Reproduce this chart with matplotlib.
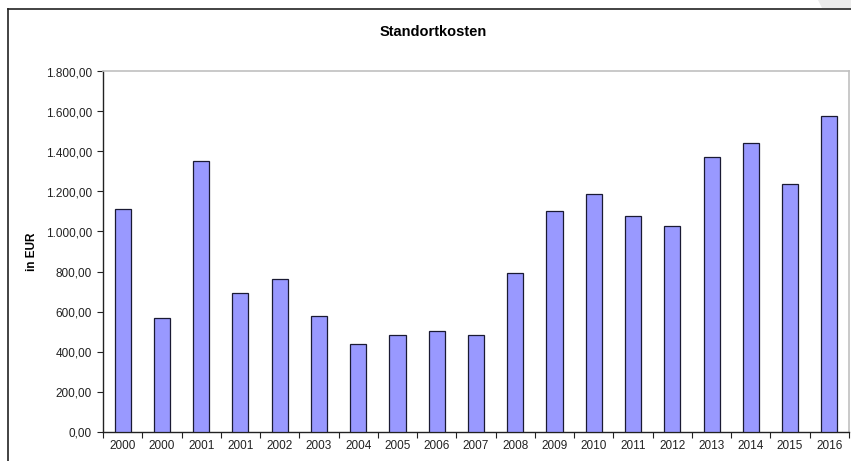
import matplotlib.pyplot as plt
from matplotlib.ticker import FuncFormatter, FixedLocator, MultipleLocator
from matplotlib.lines import Line2D
from matplotlib.patches import Polygon
import numpy as np

plt.rcParams['font.family'] = ['Liberation Sans', 'DejaVu Sans']

years = ["2000", "2000", "2001", "2001", "2002", "2003", "2004", "2005", "2006", "2007",
         "2008", "2009", "2010", "2011", "2012", "2013", "2014", "2015", "2016"]
kosten = [1111, 569, 1350, 691, 761, 577, 436, 481, 504, 481,
          792, 1102, 1185, 1077, 1026, 1371, 1444, 1237, 1579]


def de_format(v, pos):
    s = f"{v:,.2f}"
    return s.replace(",", "X").replace(".", ",").replace("X", ".")


fig = plt.figure(figsize=(8.51, 4.61), dpi=100)
ax = fig.add_axes([103 / 851, 29.5 / 461, 746 / 851, 360 / 461])

x = np.arange(len(years))
ax.bar(x, kosten, width=0.41, color="#9999ff", edgecolor="#1a1a33", linewidth=0.9, zorder=3)

ax.set_xlim(-0.5, len(years) - 0.5)
ax.set_ylim(0, 1800)
ax.yaxis.set_major_locator(MultipleLocator(200))
ax.yaxis.set_major_formatter(FuncFormatter(de_format))

# Kategorie-Beschriftung in der Mitte, Striche zwischen den Kategorien
ax.set_xticks(x)
ax.set_xticklabels(years)
ax.tick_params(axis="x", which="major", length=0, pad=6, labelsize=8.5, colors="#222222")
ax.xaxis.set_minor_locator(FixedLocator(np.arange(-0.5, len(years), 1.0)))
ax.tick_params(axis="x", which="minor", length=4, width=0.8, color="#222222")
ax.tick_params(axis="y", length=4, width=0.8, labelsize=8.5, pad=4, colors="#222222")

for side in ["top", "right"]:
    ax.spines[side].set_color("#c0c0c0")
    ax.spines[side].set_linewidth(1.2)
for side in ["left", "bottom"]:
    ax.spines[side].set_color("#222222")
    ax.spines[side].set_linewidth(1.0)

ax.set_ylabel("in EUR", fontsize=8.5, fontweight="bold")
ax.yaxis.set_label_coords(-0.087, 0.5)
fig.text(433 / 851, 1 - 32 / 461, "Standortkosten", ha="center", va="center",
         fontsize=10.5, fontweight="bold")

# äußerer Rahmen
fig.add_artist(Polygon([[818 / 851, 1], [1, 1], [1, 1 - 8 / 461], [822 / 851, 1 - 8 / 461]],
                       closed=True, facecolor="#ececec", edgecolor="none",
                       transform=fig.transFigure))
fig.add_artist(Line2D([8 / 851, 8 / 851], [0, 1 - 9 / 461], color="#222222", lw=1.2))
fig.add_artist(Line2D([8 / 851, 1], [1 - 9 / 461, 1 - 9 / 461], color="#222222", lw=1.2))

fig.savefig("out.png", dpi=100)
